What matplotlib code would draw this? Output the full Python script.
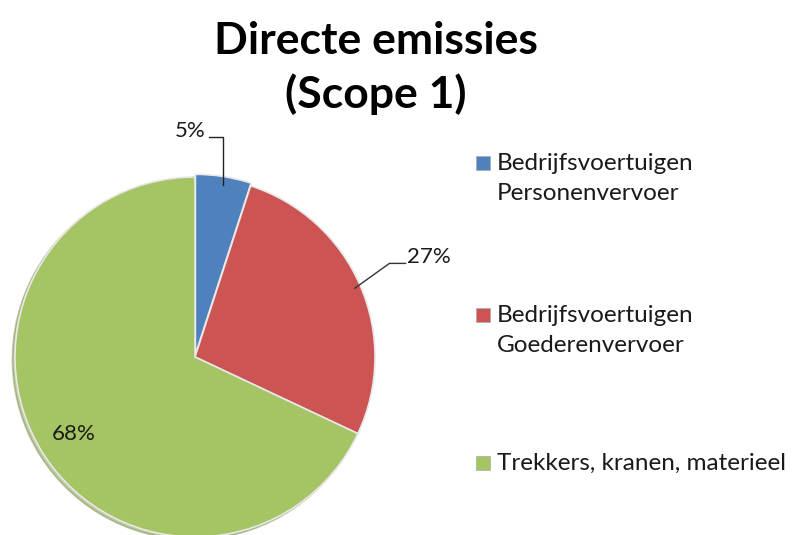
import numpy as np
import matplotlib.pyplot as plt
from matplotlib.patches import Rectangle

categories = ["Bedrijfsvoertuigen\nPersonenvervoer",
              "Bedrijfsvoertuigen\nGoederenvervoer",
              "Trekkers, kranen, materieel"]
values = [5, 27, 68]
pct_labels = ["5%", "27%", "68%"]
colors = ["#4F81BD", "#CC5452", "#A5C463"]

plt.rcParams['font.family'] = ['Lato', 'DejaVu Sans']

fig = plt.figure(figsize=(7.97, 5.35), dpi=100)
ax = fig.add_axes([15 / 797, -2 / 535, 360 / 797, 360 / 535])

wedges, _ = ax.pie(values, colors=colors, startangle=90, counterclock=False,
                   explode=[0.015, 0, 0],
                   wedgeprops=dict(edgecolor="#e8e8e8", linewidth=1.2),
                   shadow=dict(ox=-0.01, oy=-0.01, shade=0.25))
ax.set_xlim(-1.0, 1.0)
ax.set_ylim(-1.0, 1.0)
ax.set_aspect('equal')

def mid(w):
    a = np.deg2rad((w.theta1 + w.theta2) / 2)
    return np.cos(a), np.sin(a)

# 5% label, leader line with elbow
x, y = mid(wedges[0])
ax.plot([x, x, x - 0.08], [y - 0.03, 1.22, 1.22], color="#222222", lw=1, clip_on=False)
ax.text(x - 0.1, 1.255, pct_labels[0], ha="right", va="center", fontsize=16,
        color="#1a1a1a")

# 27% label
x, y = mid(wedges[1])
ax.plot([x - 0.03, 1.08, 1.17], [y - 0.015, 0.52, 0.52], color="#333333", lw=1, clip_on=False)
ax.text(1.18, 0.555, pct_labels[1], ha="left", va="center", fontsize=16,
        color="#1a1a1a")

# 68% label inside
x, y = mid(wedges[2])
ax.text(0.8 * x, 0.8 * y, pct_labels[2], ha="center", va="center", fontsize=16,
        color="#1a1a1a")

fig.text(376 / 797, 1 - 41 / 535, "Directe emissies", ha="center", va="center",
         fontsize=32, fontweight="bold")
fig.text(376 / 797, 1 - 94 / 535, "(Scope 1)", ha="center", va="center",
         fontsize=32, fontweight="bold")

# legend
leg_y = [163, 315, 463]
for lab, c, yy in zip(categories, colors, leg_y):
    fig.patches.append(Rectangle((476 / 797, 1 - (yy + 7) / 535), 14 / 797, 14 / 535,
                                 transform=fig.transFigure, facecolor=c,
                                 edgecolor="#aaaaaa", lw=0.5))
    fig.text(497 / 797, 1 - (yy - 10) / 535, lab, ha="left", va="top", fontsize=17.5,
             linespacing=1.5, color="#1a1a1a")

fig.savefig("out.png", dpi=100)
